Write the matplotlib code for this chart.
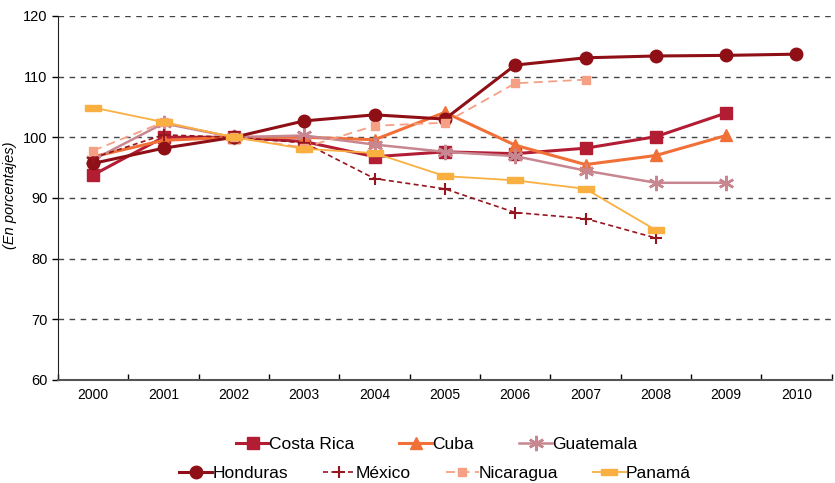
import numpy as np
import matplotlib
matplotlib.use('Agg')
import matplotlib.pyplot as plt

plt.rcParams['font.family'] = ['Liberation Sans', 'DejaVu Sans']

years = [2000, 2001, 2002, 2003, 2004, 2005, 2006, 2007, 2008, 2009, 2010]

costa_rica = [93.8, 100.0, 100.0, 99.3, 96.8, 97.6, 97.3, 98.2, 100.1, 104.0]
cuba = [96.8, 99.5, 100.0, 100.0, 99.6, 104.1, 98.7, 95.5, 97.0, 100.3]
guatemala = [96.3, 102.3, 100.0, 100.3, 98.8, 97.6, 96.9, 94.5, 92.5, 92.5]
honduras = [95.7, 98.2, 100.0, 102.7, 103.7, 103.0, 111.9, 113.1, 113.4, 113.5, 113.7]
mexico = [96.6, 100.4, 100.0, 99.1, 93.2, 91.5, 87.6, 86.6, 83.4]
nicaragua = [97.8, 102.5, 100.0, 98.3, 101.9, 102.4, 108.9, 109.5]
panama = [104.9, 102.5, 100.0, 98.1, 97.4, 93.6, 92.9, 91.5, 84.7]

fig = plt.figure(figsize=(8.35, 4.83), dpi=100)
ax = fig.add_axes([0.0695, 0.2133, 0.9265, 0.7537])

# wide flat rectangle marker for Panama
rect = [(-1.8, -0.7), (1.8, -0.7), (1.8, 0.7), (-1.8, 0.7), (-1.8, -0.7)]

ax.plot(years[:len(costa_rica)], costa_rica, color='#B31D33', lw=2.2, marker='s', ms=9, label='Costa Rica')
ax.plot(years[:len(cuba)], cuba, color='#F07038', lw=2.2, marker='^', ms=9, label='Cuba')
ax.plot(years[:len(guatemala)], guatemala, color='#C78690', lw=1.8, marker=(6, 2, 0), ms=11, mew=1.8, label='Guatemala')
ax.plot(years[:len(honduras)], honduras, color='#8E0F15', lw=2.2, marker='o', ms=9, label='Honduras')
ax.plot(years[:len(mexico)], mexico, color='#961620', lw=1.2, ls=(0, (3, 2)), marker='+', ms=8, mew=1.5, label='México')
ax.plot(years[:len(nicaragua)], nicaragua, color='#F5A085', lw=1.3, ls=(0, (5, 3)), marker='s', ms=6, label='Nicaragua')
ax.plot(years[:len(panama)], panama, color='#F9B040', lw=1.3, marker=rect, ms=11, label='Panamá')

ax.set_xlim(1999.5, 2010.5)
ax.set_ylim(60, 120)
ax.set_yticks(np.arange(60, 121, 10))
ax.set_xticks(years)
ax.set_xticks(np.arange(1999.5, 2011, 1), minor=True)
ax.tick_params(axis='x', which='major', length=0, labelsize=10, pad=6)
ax.tick_params(axis='x', which='minor', length=4, direction='in', width=1)
ax.tick_params(axis='y', length=4, labelsize=10.5, width=1)

for yv in range(70, 121, 10):
    ax.axhline(yv, color='#444444', lw=1, ls=(0, (4, 4)), zorder=0)

for s in ['top', 'right']:
    ax.spines[s].set_visible(False)
ax.spines['left'].set_color('#222222')
ax.spines['bottom'].set_color('#555555')
ax.spines['bottom'].set_linewidth(1.5)

# y label sits close to the figure edge
fig.text(10 / 835, 1 - 195 / 483, '(En porcentajes)', fontsize=10.5, style='italic',
         rotation=90, ha='center', va='center')

handles, labels = ax.get_legend_handles_labels()
fig.legend(handles[:3], labels[:3], loc='center', bbox_to_anchor=(0.523, 0.08), ncol=3,
           frameon=False, fontsize=12.5, handlelength=1.9, handletextpad=0.0, columnspacing=2.6)
fig.legend(handles[3:], labels[3:], loc='center', bbox_to_anchor=(0.521, 0.02), ncol=4,
           frameon=False, fontsize=12.5, handlelength=1.9, handletextpad=0.0, columnspacing=2.0)

fig.savefig('out.png', dpi=100)
